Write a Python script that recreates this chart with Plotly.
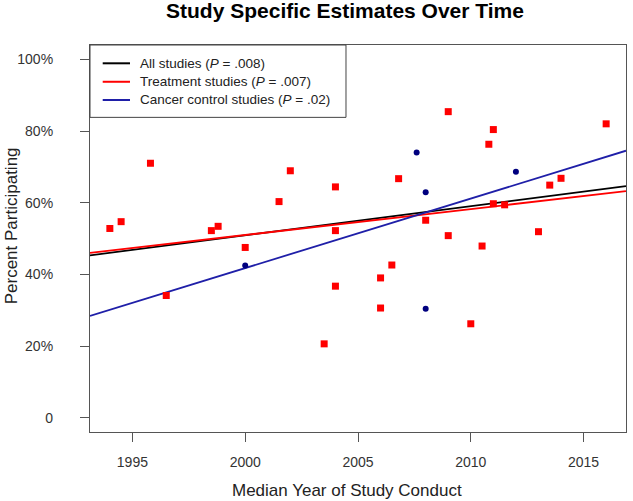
import plotly.graph_objects as go

# Treatment studies (red squares): median year, percent participating
treat_year = [1994.0, 1994.5, 1995.8, 1996.5, 1998.5, 1998.8, 2000.0, 2001.5, 2002.0,
              2003.5, 2004.0, 2004.0, 2004.0, 2006.0, 2006.0, 2006.5, 2006.8, 2008.0,
              2009.0, 2009.0, 2010.0, 2010.5, 2010.8, 2011.0, 2011.0, 2011.5, 2013.0,
              2013.5, 2014.0, 2016.0]
treat_pct = [52.8, 54.7, 71.0, 34.1, 52.2, 53.4, 47.5, 60.3, 68.9,
             20.6, 64.4, 52.2, 36.7, 39.0, 30.6, 42.6, 66.7, 55.1,
             85.4, 50.8, 26.2, 47.9, 76.3, 80.4, 59.7, 59.4, 51.9,
             64.9, 66.8, 82.0]

# Cancer control studies (blue circles)
cc_year = [2000.0, 2007.6, 2008.0, 2008.0, 2012.0]
cc_pct = [42.5, 74.0, 62.9, 30.4, 68.6]

# Fitted trend lines: value at left and right edge of the x range
x_range = [1993.12, 2016.88]
all_fit = [45.3, 64.6]
treat_fit = [46.0, 63.2]
cc_fit = [28.4, 74.5]

legend_names = ["All studies (<i>P</i> = .008)",
                "Treatment studies (<i>P</i> = .007)",
                "Cancer control studies (<i>P</i> = .02)"]
legend_colors = ["black", "#FF0000", "#1F1FA8"]

y_tickvals = [0, 20, 40, 60, 80, 100]
y_ticktext = ["0", "20%", "40%", "60%", "80%", "100%"]
x_tickvals = [1995, 2000, 2005, 2010, 2015]

FONT = "Liberation Sans, Arial"

fig = go.Figure()
for vals, col in zip([all_fit, treat_fit, cc_fit], legend_colors):
    fig.add_trace(go.Scatter(x=x_range, y=vals, mode="lines", showlegend=False,
                             line=dict(color=col, width=1.8)))
fig.add_trace(go.Scatter(x=treat_year, y=treat_pct, mode="markers", showlegend=False,
                         marker=dict(symbol="square", size=7, color="#FF0000")))
fig.add_trace(go.Scatter(x=cc_year, y=cc_pct, mode="markers", showlegend=False,
                         marker=dict(symbol="circle", size=6, color="#00007F")))

axis_common = dict(showline=True, linecolor="#555555", linewidth=1.2, mirror=True,
                   ticks="outside", ticklen=9, tickcolor="#555555", showgrid=False,
                   zeroline=False, automargin=False,
                   tickfont=dict(family=FONT, size=14, color="#333333"))

# Manual legend box (plot-domain coordinates)
shapes = [dict(type="rect", xref="paper", yref="paper", x0=0, x1=0.4776, y0=0.813, y1=1,
               line=dict(color="#444444", width=1), fillcolor="white", layer="above")]
annotations = []
rows_y = [0.9527, 0.905, 0.8579]
for name, col, ry in zip(legend_names, legend_colors, rows_y):
    shapes.append(dict(type="line", xref="paper", yref="paper", x0=0.0237, x1=0.0746,
                       y0=ry, y1=ry, line=dict(color=col, width=2), layer="above"))
    annotations.append(dict(text=name, xref="paper", yref="paper", x=0.0901, y=ry,
                            xanchor="left", yanchor="middle", showarrow=False,
                            font=dict(family=FONT, size=13.5, color="#222222")))

annotations.append(dict(text="Median Year of Study Conduct", xref="paper", yref="paper",
                        x=0.4795, y=-0.1499, xanchor="center", yanchor="middle", showarrow=False,
                        font=dict(family=FONT, size=17, color="#222222")))
annotations.append(dict(text="Percent Participating", xref="paper", yref="paper",
                        x=-0.147, y=0.532, xanchor="center", yanchor="middle", showarrow=False,
                        textangle=-90, font=dict(family=FONT, size=17, color="#222222")))

fig.update_layout(
    width=633, height=501,
    margin=dict(l=90, r=7, t=45, b=69),
    paper_bgcolor="white", plot_bgcolor="white",
    title=dict(text="<b>Study Specific Estimates Over Time</b>", x=0.545, xanchor="center",
               y=0.978, yanchor="middle",
               font=dict(family=FONT, size=21, color="black")),
    xaxis=dict(range=x_range, tickvals=x_tickvals, ticklabelstandoff=8, **axis_common),
    yaxis=dict(range=[-4, 104], tickvals=y_tickvals, ticktext=y_ticktext,
               ticklabelstandoff=24, **axis_common),
    shapes=shapes,
    annotations=annotations,
    showlegend=False,
)

fig.write_html("out.html", config={"displayModeBar": False},
               post_script="document.body.style.margin='0';document.body.style.padding='0';")
